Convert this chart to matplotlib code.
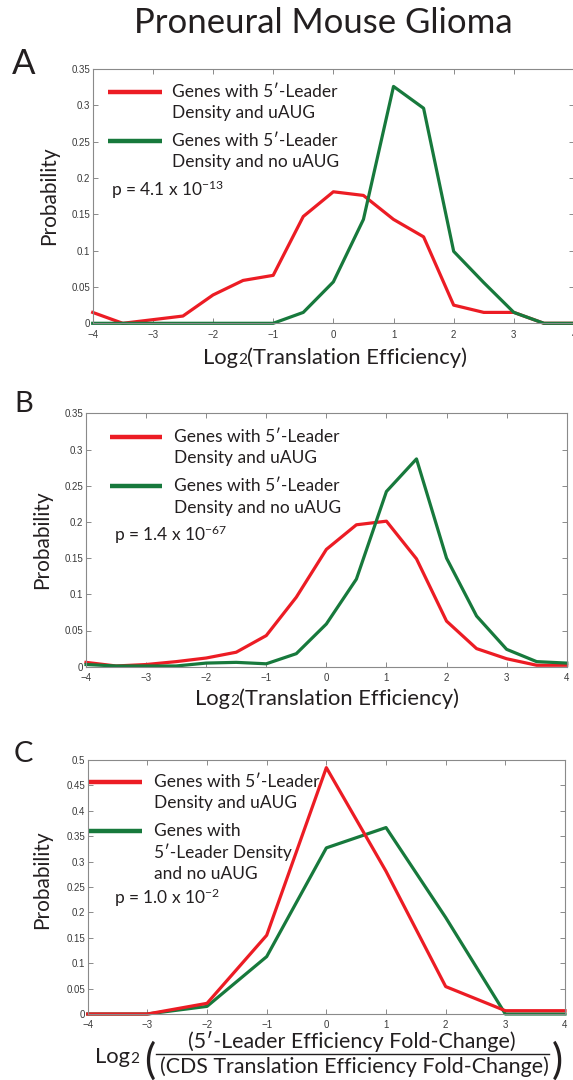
import matplotlib
matplotlib.use("Agg")
import matplotlib.pyplot as plt
import numpy as np
from matplotlib.lines import Line2D
from matplotlib.ticker import FormatStrFormatter

W, H = 573, 1080
SANS = ["Lato", "DejaVu Sans"]
TICK_FONT = ["Liberation Sans", "DejaVu Sans"]
plt.rcParams["font.family"] = SANS

RED = "#ec1c24"
GREEN = "#17793c"

# translation efficiency bins (log2), half-unit steps
te_bins = np.arange(-4, 4.01, 0.5)

# panel A
a_uaug = [0.015, 0.0, 0.005, 0.010, 0.039, 0.059, 0.066, 0.147, 0.181,
          0.176, 0.143, 0.119, 0.025, 0.015, 0.015, 0.0, 0.0]
a_no_uaug = [0.0, 0.0, 0.0, 0.0, 0.0, 0.0, 0.0, 0.015, 0.057,
             0.143, 0.326, 0.296, 0.099, 0.056, 0.015, 0.0, 0.0]
a_pval = ("4.1", "-13")

# panel B
b_uaug = [0.006, 0.001, 0.003, 0.007, 0.012, 0.020, 0.043, 0.096, 0.162,
          0.196, 0.201, 0.149, 0.063, 0.025, 0.011, 0.002, 0.002]
b_no_uaug = [0.003, 0.001, 0.001, 0.001, 0.005, 0.006, 0.004, 0.018, 0.059,
             0.121, 0.242, 0.287, 0.150, 0.070, 0.024, 0.007, 0.005]
b_pval = ("1.4", "-67")

# panel C: fold-change ratio, whole-unit bins
fc_bins = np.arange(-4, 4.01, 1.0)
c_uaug = [0.0, 0.0, 0.021, 0.155, 0.485, 0.281, 0.054, 0.0065, 0.0065]
c_no_uaug = [0.0, 0.0, 0.015, 0.113, 0.327, 0.367, 0.190, 0.0, 0.0]
c_pval = ("1.0", "-2")

fig = plt.figure(figsize=(W / 100, H / 100), dpi=100)


def fx(px):
    return px / W


def fy(py):
    return 1 - py / H


def make_axes(l, t, r, b, ymax):
    ax = fig.add_axes([fx(l), fy(b), (r - l) / W, (b - t) / H])
    ax.set_xlim(-4, 4)
    ax.set_ylim(0, ymax)
    ax.set_xticks(np.arange(-4, 5, 1))
    ax.set_yticks(np.arange(0, ymax + 1e-9, 0.05))
    ax.yaxis.set_major_formatter(FormatStrFormatter("%g"))
    ax.tick_params(direction="in", top=True, right=True, length=3.5,
                   width=0.7, color="#8a8a8a", labelsize=7,
                   labelcolor="#3a3a3a")
    ax.tick_params(axis="x", pad=4.5)
    ax.tick_params(axis="y", pad=2)
    for lab in ax.get_xticklabels() + ax.get_yticklabels():
        lab.set_family(TICK_FONT)
    for sp in ax.spines.values():
        sp.set_color("#8a8a8a")
        sp.set_linewidth(0.8)
    return ax


def legend_entry(x0, x1, y, color, lines, tx):
    fig.add_artist(Line2D([fx(x0), fx(x1)], [fy(y), fy(y)], color=color,
                          lw=3.2, solid_capstyle="butt"))
    for i, line in enumerate(lines):
        fig.text(fx(tx), fy(y + 21.5 * i), line, fontsize=12.5,
                 va="center", ha="left", color="#231f20")


def pvalue(x, y, base, exp):
    fig.text(fx(x), fy(y), r"p = %s x 10$\mathregular{^{%s}}$" % (base, exp),
             fontsize=12.5, va="center", ha="left", color="#231f20")


def log2_label(ax, x, baseline, rest, size=15.8):
    t1 = fig.text(fx(x), fy(baseline), "Log", fontsize=size,
                  va="baseline", ha="left", color="#231f20")
    t2 = ax.annotate("2", xy=(1, fy(baseline)),
                     xycoords=(t1, "figure fraction"), fontsize=size * 0.7,
                     va="baseline", ha="left", color="#231f20",
                     annotation_clip=False)
    if rest:
        ax.annotate(rest, xy=(1, fy(baseline)),
                    xycoords=(t2, "figure fraction"), fontsize=size,
                    va="baseline", ha="left", color="#231f20",
                    annotation_clip=False)


def ylabel(x, y):
    fig.text(fx(x), fy(y), "Probability", fontsize=15, rotation=90,
             va="center", ha="center", color="#231f20")


fig.text(fx(323), fy(33), "Proneural Mouse Glioma", fontsize=25,
         ha="center", va="baseline", color="#231f20")

# ---- A ----
ax_a = make_axes(92.7, 69, 574, 323.3, 0.35)
ax_a.plot(te_bins, a_uaug, color=RED, lw=2.3, clip_on=False)
ax_a.plot(te_bins, a_no_uaug, color=GREEN, lw=2.3, clip_on=False)
fig.text(fx(12), fy(74), "A", fontsize=25, va="baseline", color="#231f20")
legend_entry(108, 162, 91.7, RED, ["Genes with 5\u2032-Leader",
                                   "Density and uAUG"], 172)
legend_entry(108, 162, 140.7, GREEN, ["Genes with 5\u2032-Leader",
                                      "Density and no uAUG"], 172)
pvalue(111, 190, *a_pval)
ylabel(49, 196)
log2_label(ax_a, 203, 364, "(Translation Efficiency)")

# ---- B ----
ax_b = make_axes(86, 413.3, 566.7, 666.7, 0.35)
ax_b.plot(te_bins, b_uaug, color=RED, lw=2.3, clip_on=False)
ax_b.plot(te_bins, b_no_uaug, color=GREEN, lw=2.3, clip_on=False)
fig.text(fx(14), fy(412), "B", fontsize=21, va="baseline", color="#231f20")
legend_entry(109.5, 162, 436.7, RED, ["Genes with 5\u2032-Leader",
                                      "Density and uAUG"], 174)
legend_entry(109.5, 162, 486, GREEN, ["Genes with 5\u2032-Leader",
                                      "Density and no uAUG"], 174)
pvalue(114, 535, *b_pval)
ylabel(42, 540)
log2_label(ax_b, 195, 705, "(Translation Efficiency)")

# ---- C ----
ax_c = make_axes(87.7, 760, 565, 1014, 0.5)
ax_c.plot(fc_bins, c_no_uaug, color=GREEN, lw=2.3, clip_on=False)
ax_c.plot(fc_bins, c_uaug, color=RED, lw=2.3, clip_on=False)
fig.text(fx(14), fy(762), "C", fontsize=21, va="baseline", color="#231f20")
legend_entry(89, 142, 781.7, RED, ["Genes with 5\u2032-Leader",
                                   "Density and uAUG"], 154)
legend_entry(89, 142, 831, GREEN, ["Genes with", "5\u2032-Leader Density",
                                   "and no uAUG"], 154)
pvalue(114, 898, *c_pval)
ylabel(42, 880)

# x label as a fraction inside large parentheses
log2_label(ax_c, 95, 1063, "")
fig.text(fx(144), fy(1061), "(", fontsize=30, va="center", ha="left",
         color="#231f20")
fig.text(fx(563), fy(1061), ")", fontsize=30, va="center", ha="right",
         color="#231f20")
fig.text(fx(352), fy(1042), "(5\u2032-Leader Efficiency Fold-Change)",
         fontsize=15.4, va="center", ha="center", color="#231f20")
fig.text(fx(354), fy(1067), "(CDS Translation Efficiency Fold-Change)",
         fontsize=15.4, va="center", ha="center", color="#231f20")
fig.add_artist(Line2D([fx(156), fx(549)], [fy(1054), fy(1054)],
                      color="#231f20", lw=1.0))

fig.savefig("out.png", dpi=100)
